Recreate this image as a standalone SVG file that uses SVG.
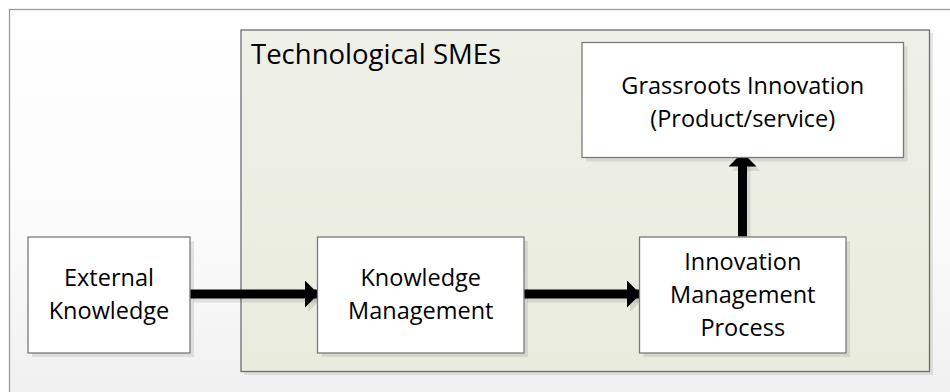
<svg xmlns="http://www.w3.org/2000/svg" width="950" height="392" viewBox="0 0 950 392">
  <defs>
    <linearGradient id="pageFill" x1="0" y1="0" x2="0" y2="1">
      <stop offset="0" stop-color="#ffffff"/>
      <stop offset="0.55" stop-color="#fbfbfb"/>
      <stop offset="1" stop-color="#efefef"/>
    </linearGradient>
    <linearGradient id="groupFill" x1="0" y1="0" x2="0" y2="1">
      <stop offset="0" stop-color="#eff0e8"/>
      <stop offset="1" stop-color="#e9ecdd"/>
    </linearGradient>
    <marker id="head" viewBox="0 0 14 28" refX="13" refY="14" markerWidth="14" markerHeight="28" markerUnits="userSpaceOnUse" orient="auto">
      <path d="M0,0 L14,14 L0,28 Z" fill="#000"/>
    </marker>
    <marker id="headShadow" viewBox="0 0 14 28" refX="13" refY="14" markerWidth="14" markerHeight="28" markerUnits="userSpaceOnUse" orient="auto">
      <path d="M0,0 L14,14 L0,28 Z" fill="#000" fill-opacity="0.09"/>
    </marker>
  </defs>
  <style>
    .label { font-family: "Open Sans", "Liberation Sans", sans-serif; font-size: 23.5px; fill: #000; text-anchor: middle; }
    .title { font-family: "Open Sans", "Liberation Sans", sans-serif; font-size: 27.5px; fill: #000; }
    .box { fill: #ffffff; stroke: #7a7a7a; stroke-width: 1.3; }
    .shadow { fill: #000; fill-opacity: 0.09; }
    .link { stroke: #000; stroke-width: 9; fill: none; marker-end: url(#head); }
    .linkShadow { stroke: #000; stroke-opacity: 0.09; stroke-width: 9; fill: none; marker-end: url(#headShadow); }
  </style>

  <!-- page background and frame -->
  <rect x="0" y="0" width="950" height="392" fill="#ffffff"/>
  <rect x="9.5" y="9.5" width="950" height="400" fill="url(#pageFill)" stroke="#9a9a9a" stroke-width="1.3"/>

  <!-- container -->
  <g id="technological-smes">
    <rect x="244" y="33" width="689" height="342" class="shadow"/>
    <rect x="241" y="30" width="688.5" height="341.5" fill="url(#groupFill)" stroke="#6e6e6e" stroke-width="1.3"/>
    <text x="251" y="63.5" class="title">Technological SMEs</text>
  </g>

  <!-- connectors -->
  <g id="connectors">
    <path d="M193,298 H321" class="linkShadow"/>
    <path d="M527,298 H643" class="linkShadow"/>
    <path d="M746,240 V158" class="linkShadow"/>
    <path d="M190,294 H317.5" class="link"/>
    <path d="M524,294 H639.5" class="link"/>
    <path d="M742.5,236.5 V153.5" class="link"/>
  </g>

  <g id="external-knowledge">
    <rect x="32" y="241" width="162" height="116" class="shadow"/>
    <rect x="28" y="237" width="162" height="116" class="box"/>
    <text x="109" y="285.5" class="label">External</text>
    <text x="109" y="319" class="label">Knowledge</text>
  </g>

  <g id="knowledge-management">
    <rect x="321.5" y="241" width="206.5" height="116" class="shadow"/>
    <rect x="317.5" y="237" width="206.5" height="116" class="box"/>
    <text x="420.75" y="285.5" class="label">Knowledge</text>
    <text x="420.75" y="319" class="label">Management</text>
  </g>

  <g id="innovation-management-process">
    <rect x="643.5" y="241" width="206.5" height="116" class="shadow"/>
    <rect x="639.5" y="237" width="206.5" height="116" class="box"/>
    <text x="742.75" y="270" class="label">Innovation</text>
    <text x="742.75" y="303" class="label">Management</text>
    <text x="742.75" y="335.5" class="label">Process</text>
  </g>

  <g id="grassroots-innovation">
    <rect x="586" y="46.5" width="321.5" height="115" class="shadow"/>
    <rect x="582" y="42.5" width="321.5" height="115" class="box"/>
    <text x="742.75" y="93.5" class="label">Grassroots Innovation</text>
    <text x="742.75" y="126.5" class="label">(Product/service)</text>
  </g>
</svg>
